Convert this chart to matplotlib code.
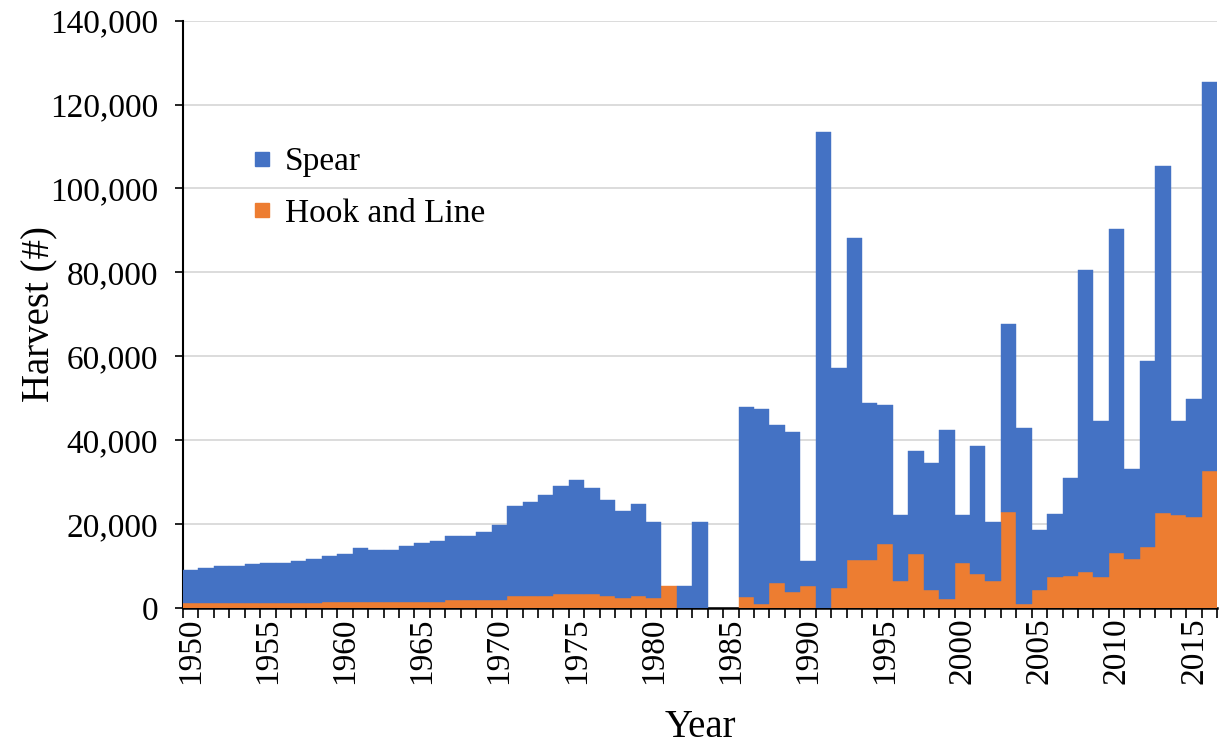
import matplotlib
matplotlib.use("Agg")
import matplotlib.pyplot as plt
from matplotlib.lines import Line2D
from matplotlib.ticker import FuncFormatter, FixedLocator
import numpy as np

years = list(range(1950, 2017))

hook_and_line = [
    1100, 1100, 1100, 1100, 1100, 1100, 1100, 1100, 1100, 1500,   # 1950-1959
    1500, 1500, 1500, 1500, 1500, 1500, 1500, 1900, 1900, 1900,   # 1960-1969
    1900, 2800, 2800, 2800, 3300, 3300, 3300, 2800, 2300, 2800,   # 1970-1979
    2300, 5300, 0, 0, 0, 0, 2700, 1000, 6000, 3900,               # 1980-1989
    5200, 0, 4700, 11500, 11500, 15300, 6400, 12800, 4300, 2200,  # 1990-1999
    10700, 8100, 6400, 22900, 900, 4200, 7400, 7600, 8600, 7400,  # 2000-2009
    13200, 11600, 14600, 22600, 22200, 21800, 32700,              # 2010-2016
]

spear = [
    8000, 8400, 8800, 8800, 9300, 9700, 9700, 10100, 10500, 11000,      # 1950-1959
    11400, 12700, 12300, 12300, 13200, 14000, 14400, 15200, 15200, 16100,  # 1960-1969
    17900, 21600, 22400, 24100, 25700, 27100, 25300, 22900, 20800, 22000,  # 1970-1979
    18300, 0, 5300, 20400, 0, 0, 45200, 46400, 37600, 38000,            # 1980-1989
    5900, 113500, 52600, 76600, 37300, 33000, 15700, 24500, 30200, 40200,  # 1990-1999
    11400, 30500, 14000, 44900, 42000, 14500, 15100, 23300, 71900, 37100,  # 2000-2009
    77100, 21500, 44300, 82800, 22300, 28100, 92700,                    # 2010-2016
]

y_ticks = [0, 20000, 40000, 60000, 80000, 100000, 120000, 140000]
x_label_years = [1950, 1955, 1960, 1965, 1970, 1975, 1980, 1985, 1990, 1995, 2000, 2005, 2010, 2015]

BLUE = "#4472C4"
ORANGE = "#ED7D31"
SERIF = ["Liberation Serif", "DejaVu Serif"]

plt.rcParams["font.family"] = SERIF

fig = plt.figure(figsize=(12.2, 7.49), dpi=100)
ax = fig.add_axes([0.150, 0.1883, 0.8475, 0.7842])

x = np.array(years, dtype=float)
hook_edges = [ORANGE if v > 0 else "none" for v in hook_and_line]
spear_edges = [BLUE if v > 0 else "none" for v in spear]
ax.bar(x, hook_and_line, width=1.0, color=ORANGE, edgecolor=hook_edges,
       linewidth=0.3, zorder=3, label="Hook and Line")
ax.bar(x, spear, width=1.0, bottom=hook_and_line, color=BLUE,
       edgecolor=spear_edges, linewidth=0.3, zorder=3, label="Spear")

ax.set_xlim(years[0] - 0.5, years[-1] + 0.5)
ax.set_ylim(0, 140000)

ax.set_yticks(y_ticks)
ax.yaxis.set_major_formatter(FuncFormatter(lambda v, p: f"{int(v):,}"))
ax.tick_params(axis="y", direction="out", length=6, width=1.2, labelsize=24,
               colors="black", pad=12)
ax.grid(axis="y", color="#D9D9D9", linewidth=1.3, zorder=0)
ax.set_axisbelow(True)

# x ticks at category boundaries, labels at category centers
boundaries = [y - 0.5 for y in years] + [years[-1] + 0.5]
ax.xaxis.set_major_locator(FixedLocator(boundaries))
ax.xaxis.set_major_formatter(FuncFormatter(lambda v, p: ""))
ax.xaxis.set_minor_locator(FixedLocator(x_label_years))
ax.set_xticklabels([str(y) for y in x_label_years], minor=True, rotation=90,
                   fontsize=24)
ax.tick_params(axis="x", which="major", direction="out", length=7, width=1.2,
               colors="black")
ax.tick_params(axis="x", which="minor", length=0, pad=7)

for s in ["top", "right"]:
    ax.spines[s].set_visible(False)
ax.spines["left"].set_linewidth(1.5)
ax.spines["bottom"].set_linewidth(1.8)

ax.set_ylabel("Harvest (#)", fontsize=28, labelpad=-6)
ax.set_xlabel("Year", fontsize=28, labelpad=18)

handles = [
    Line2D([], [], marker="s", linestyle="none", markersize=10,
           markerfacecolor=BLUE, markeredgecolor=BLUE, label="Spear"),
    Line2D([], [], marker="s", linestyle="none", markersize=10,
           markerfacecolor=ORANGE, markeredgecolor=ORANGE, label="Hook and Line"),
]
leg = ax.legend(handles=handles, loc="upper left", bbox_to_anchor=(0.068, 0.785),
                frameon=False, fontsize=24, handlelength=0.5, handletextpad=0.45,
                labelspacing=0.62, borderaxespad=0, borderpad=0)

fig.savefig("out.png", dpi=100, facecolor="white")
